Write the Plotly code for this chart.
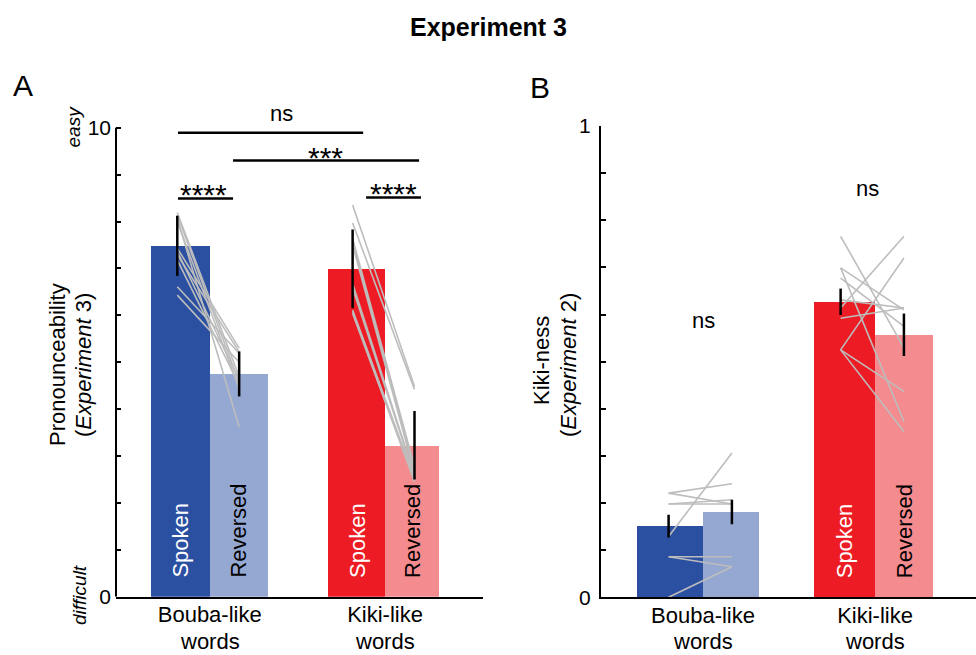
import plotly.graph_objects as go

# ---------------- Data ----------------
group_labels = ["Bouba-like", "Kiki-like"]
group_label_second_line = ["words", "words"]
group_pos = [0, 1]

# Panel A: Pronounceability (Experiment 3)
pron_spoken_mean = [7.48, 6.99]
pron_reversed_mean = [4.75, 3.23]
pron_spoken_err = [0.64, 0.84]
pron_reversed_err = [0.48, 0.73]
pron_bouba_spoken_items = [8.19, 8.14, 8.07, 8.00, 7.43, 7.36, 7.29, 7.18, 6.61, 6.43]
pron_bouba_reversed_items = [4.69, 4.56, 3.62, 4.44, 5.30, 4.62, 5.22, 4.51, 5.19, 5.00]
pron_kiki_spoken_items = [8.35, 7.97, 7.64, 7.57, 7.50, 6.68, 6.58, 6.11, 6.08, 6.04]
pron_kiki_reversed_items = [4.48, 4.42, 2.77, 2.70, 2.63, 2.59, 2.56, 2.52, 2.49, 2.45]

# Panel B: Kiki-ness (Experiment 2)
kiki_spoken_mean = [0.151, 0.627]
kiki_reversed_mean = [0.181, 0.557]
kiki_spoken_err = [0.024, 0.028]
kiki_reversed_err = [0.026, 0.045]
kiki_bouba_spoken_items = [0.221, 0.221, 0.198, 0.198, 0.129, 0.086, 0.086, 0.0]
kiki_bouba_reversed_items = [0.241, 0.198, 0.207, 0.198, 0.306, 0.086, 0.065, 0.065]
kiki_kiki_spoken_items = [0.766, 0.614, 0.525, 0.525, 0.525, 0.699, 0.699, 0.677, 0.631, 0.592]
kiki_kiki_reversed_items = [0.529, 0.766, 0.720, 0.437, 0.352, 0.373, 0.610, 0.575, 0.614, 0.614]

# ---------------- Styles / layout constants ----------------
FONT = "Liberation Sans, Arial, sans-serif"
C_BOUBA_SP = "#2B50A2"
C_BOUBA_RV = "#95A8D2"
C_KIKI_SP = "#ED1C24"
C_KIKI_RV = "#F48B8E"
C_ITEM = "#BDBDBD"

A_sp_width = [0.335, 0.323]
A_rv_width = [0.333, 0.310]
B_sp_width = [0.384, 0.355]
B_rv_width = [0.324, 0.335]
A_sp_dx, A_rv_dx = -0.185, 0.168
B_sp_dx, B_rv_dx = -0.200, 0.168

fig = go.Figure()


def add_panel(xa, ya, sp_mean, rv_mean, sp_err, rv_err, sp_w, rv_w, items, sp_dx, rv_dx):
    sp_colors = [C_BOUBA_SP, C_KIKI_SP]
    rv_colors = [C_BOUBA_RV, C_KIKI_RV]
    fig.add_trace(go.Bar(x=group_pos, y=sp_mean, width=sp_w, offset=[-w for w in sp_w],
                         marker=dict(color=sp_colors, line=dict(width=0)),
                         xaxis=xa, yaxis=ya, showlegend=False, hoverinfo="skip"))
    fig.add_trace(go.Bar(x=group_pos, y=rv_mean, width=rv_w, offset=[0, 0],
                         marker=dict(color=rv_colors, line=dict(width=0)),
                         xaxis=xa, yaxis=ya, showlegend=False, hoverinfo="skip"))
    for g, (s_items, r_items) in zip(group_pos, items):
        for s, r in zip(s_items, r_items):
            fig.add_trace(go.Scatter(x=[g + sp_dx, g + rv_dx], y=[s, r], mode="lines",
                                     line=dict(color=C_ITEM, width=1.6),
                                     xaxis=xa, yaxis=ya, showlegend=False, hoverinfo="skip"))
    fig.add_trace(go.Scatter(x=[g + sp_dx for g in group_pos] + [g + rv_dx for g in group_pos],
                             y=sp_mean + rv_mean, mode="markers",
                             marker=dict(size=1, color="rgba(0,0,0,0)"),
                             error_y=dict(type="data", array=sp_err + rv_err, width=0,
                                          thickness=2.5, color="black"),
                             xaxis=xa, yaxis=ya, showlegend=False, hoverinfo="skip"))


add_panel("x", "y", pron_spoken_mean, pron_reversed_mean, pron_spoken_err, pron_reversed_err,
          A_sp_width, A_rv_width,
          [(pron_bouba_spoken_items, pron_bouba_reversed_items),
           (pron_kiki_spoken_items, pron_kiki_reversed_items)], A_sp_dx, A_rv_dx)
add_panel("x2", "y2", kiki_spoken_mean, kiki_reversed_mean, kiki_spoken_err, kiki_reversed_err,
          B_sp_width, B_rv_width,
          [(kiki_bouba_spoken_items, kiki_bouba_reversed_items),
           (kiki_kiki_spoken_items, kiki_kiki_reversed_items)], B_sp_dx, B_rv_dx)

sig_lines = [([-0.181, 0.875], 9.89), ([0.133, 1.194], 9.30),
             ([-0.181, 0.133], 8.49), ([0.892, 1.205], 8.51)]
for xs, yv in sig_lines:
    fig.add_trace(go.Scatter(x=xs, y=[yv, yv], mode="lines", line=dict(color="black", width=2.5),
                             xaxis="x", yaxis="y", showlegend=False, hoverinfo="skip"))

annotations = []
sig_text = [("ns", 0.41, 10.30, "x", "y", 22), ("***", 0.663, 9.37, "x", "y", 30),
            ("****", -0.038, 8.58, "x", "y", 30), ("****", 1.046, 8.60, "x", "y", 30),
            ("ns", 0.004, 0.587, "x2", "y2", 22), ("ns", 0.958, 0.867, "x2", "y2", 22)]
for t, xv, yv, xr, yr, fs in sig_text:
    annotations.append(dict(text=t, x=xv, y=yv, xref=xr, yref=yr, showarrow=False,
                            xanchor="center", yanchor="middle", font=dict(size=fs, color="black")))

# second line of the category labels ("words"), placed under the tick labels
for xr in ("x", "x2"):
    for g, t in zip(group_pos, group_label_second_line):
        annotations.append(dict(text=t, x=g, y=0, xref=xr, yref="paper", showarrow=False,
                                xanchor="center", yanchor="bottom", yshift=0, borderpad=0,
                                font=dict(size=22, color="black")))


def bar_label(text, xv, xr, yr, color):
    annotations.append(dict(text=text, x=xv, y=0, xref=xr, yref=yr, showarrow=False,
                            textangle=-90, xanchor="center", yanchor="bottom", yshift=17,
                            font=dict(size=22, color=color)))


for g, w1, w2 in zip(group_pos, A_sp_width, A_rv_width):
    bar_label("Spoken", g - w1 / 2, "x", "y", "white")
    bar_label("Reversed", g + w2 / 2, "x", "y", "black")
bar_label("Spoken", 1 - B_sp_width[1] / 2, "x2", "y2", "white")
bar_label("Reversed", 1 + B_rv_width[1] / 2, "x2", "y2", "black")


def ptext(text, x, y, size, angle=0, bold=False):
    annotations.append(dict(text=("<b>%s</b>" % text) if bold else text, x=x, y=y,
                            xref="paper", yref="paper", showarrow=False, textangle=angle,
                            xanchor="center", yanchor="middle", font=dict(size=size, color="black")))


W, H = 976, 655
ptext("Experiment 3", 488 / W, 1 - 27 / H, 25, bold=True)
ptext("A", 23 / W, 1 - 86 / H, 30)
ptext("B", 540 / W, 1 - 87 / H, 30)
ptext("Pronounceability", 57 / W, 1 - 365 / H, 22, angle=-90)
ptext("(<i>Experiment</i> 3)", 83 / W, 1 - 365 / H, 22, angle=-90)
ptext("<i>easy</i>", 72.5 / W, 1 - 127 / H, 19, angle=-90)
ptext("<i>difficult</i>", 79 / W, 1 - 595 / H, 19, angle=-90)
ptext("Kiki-ness", 541 / W, 1 - 361 / H, 22, angle=-90)
ptext("(<i>Experiment</i> 2)", 568 / W, 1 - 365 / H, 22, angle=-90)

shapes = [dict(type="line", xref="x domain", yref="y", x0=0, x1=0, y0=0, y1=10,
               line=dict(color="black", width=2))]

A_tick_vals = list(range(0, 11))
A_tick_text = ["0"] + [""] * 9 + ["10"]
B_tick_vals = [i / 10 for i in range(0, 11)]
B_tick_text = ["0"] + [""] * 9 + ["1"]

common_x = dict(showgrid=False, zeroline=False, showline=True, linecolor="black", linewidth=2,
                ticks="", tickvals=group_pos, ticktext=group_labels, automargin=False,
                ticklabelstandoff=-3,
                tickfont=dict(size=22, color="black"), fixedrange=True)
common_y = dict(showgrid=False, zeroline=False, ticks="inside", ticklen=5, tickwidth=2,
                tickcolor="black", tickfont=dict(size=21, color="black"), fixedrange=True,
                ticklabelstandoff=4, automargin=False)

fig.update_layout(
    template="none",
    width=W, height=H, autosize=False,
    margin=dict(l=0, r=0, t=0, b=0, pad=0),
    paper_bgcolor="white", plot_bgcolor="rgba(0,0,0,0)",
    font=dict(family=FONT, color="black"),
    barmode="overlay", bargap=0,
    showlegend=False,
    xaxis=dict(domain=[116 / W, 482.7 / W], range=[-0.5345, 1.557], anchor="y", **common_x),
    yaxis=dict(domain=[1 - 596.7 / H, 1 - (596.7 - 10.3 * 46.9) / H], range=[0, 10.3], anchor="x",
               showline=False, tickvals=A_tick_vals, ticktext=A_tick_text, **common_y),
    xaxis2=dict(domain=[601 / W, 1.0], range=[-0.593, 1.587], anchor="y2", **common_x),
    yaxis2=dict(domain=[1 - 597.3 / H, 1 - 126 / H], range=[0, 1], anchor="x2",
                showline=True, linecolor="black", linewidth=2,
                tickvals=B_tick_vals, ticktext=B_tick_text, **common_y),
    annotations=annotations,
    shapes=shapes,
)

fig.write_html("out.html", config={"displayModeBar": False})
